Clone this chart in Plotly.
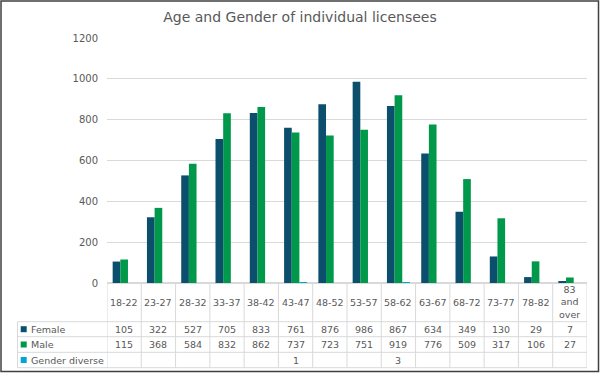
import plotly.graph_objects as go

categories = ["18-22", "23-27", "28-32", "33-37", "38-42", "43-47", "48-52",
              "53-57", "58-62", "63-67", "68-72", "73-77", "78-82", "83 and over"]
header_labels = ["18-22", "23-27", "28-32", "33-37", "38-42", "43-47", "48-52",
                 "53-57", "58-62", "63-67", "68-72", "73-77", "78-82", "83<br>and<br>over"]
female = [105, 322, 527, 705, 833, 761, 876, 986, 867, 634, 349, 130, 29, 7]
male = [115, 368, 584, 832, 862, 737, 723, 751, 919, 776, 509, 317, 106, 27]
gender_diverse = [None, None, None, None, None, 1, None, None, 3, None, None, None, None, None]
series_names = ["Female", "Male", "Gender diverse"]
series_values = [female, male, gender_diverse]
series_colors = ["#0B4F6C", "#00984A", "#00A6D6"]
y_ticks = [0, 200, 400, 600, 800, 1000, 1200]

W, H = 600, 374
ML, MR, MT, MB = 107, 13, 38, 91
PW, PH = W - ML - MR, H - MT - MB

def px(x):
    return (x - ML) / PW

def py(y):
    return (H - MB - y) / PH

TXT = "#595959"
GRID = "#D9D9D9"
FONT = "DejaVu Sans"

fig = go.Figure()
idx = list(range(len(categories)))
for name, vals, col in zip(series_names, series_values, series_colors):
    fig.add_trace(go.Bar(x=idx, y=[v if v is not None else 0 for v in vals],
                         name=name, marker=dict(color=col, line=dict(width=0)),
                         hoverinfo="skip"))

shapes = []
annotations = []

row_bounds = [321.7, 336.7, 352.3, 367.7]
# vertical column lines
for i in range(len(categories) + 1):
    shapes.append(dict(type="line", xref="x", yref="paper", x0=i - 0.5, x1=i - 0.5,
                       y0=py(283), y1=py(row_bounds[-1]), line=dict(color=GRID, width=1)))
# left column border
shapes.append(dict(type="line", xref="paper", yref="paper", x0=px(17.5), x1=px(17.5),
                   y0=py(row_bounds[0]), y1=py(row_bounds[-1]), line=dict(color=GRID, width=1)))
# horizontal lines
for rb in row_bounds:
    shapes.append(dict(type="line", xref="paper", yref="paper", x0=px(17.5), x1=1,
                       y0=py(rb), y1=py(rb), line=dict(color=GRID, width=1)))

# header labels
for i, lab in enumerate(header_labels):
    annotations.append(dict(x=i, y=py(302), xref="x", yref="paper", text=lab,
                            showarrow=False, xanchor="center", yanchor="middle",
                            font=dict(family=FONT, size=9.5, color=TXT)))

# rows
for r, (name, vals, col) in enumerate(zip(series_names, series_values, series_colors)):
    yc = (row_bounds[r] + row_bounds[r + 1]) / 2
    shapes.append(dict(type="rect", xref="paper", yref="paper", x0=px(20.7), x1=px(26.7),
                       y0=py(yc - 3), y1=py(yc + 3), fillcolor=col, line=dict(width=0)))
    annotations.append(dict(x=px(29), y=py(yc), xref="paper", yref="paper", text=name,
                            showarrow=False, xanchor="left", yanchor="middle",
                            font=dict(family=FONT, size=9.5, color=TXT)))
    for i, v in enumerate(vals):
        if v is None:
            continue
        annotations.append(dict(x=i, y=py(yc), xref="x", yref="paper", text=str(v),
                                showarrow=False, xanchor="center", yanchor="middle",
                                font=dict(family=FONT, size=9.5, color=TXT)))

# outer border
shapes.append(dict(type="rect", xref="paper", yref="paper", x0=px(1), x1=px(598.5),
                   y0=py(1), y1=py(371.5), line=dict(color="#404040", width=1.5)))

fig.update_layout(
    width=W, height=H,
    margin=dict(l=ML, r=MR, t=MT, b=MB, autoexpand=False),
    paper_bgcolor="white", plot_bgcolor="white",
    barmode="group", bargap=0.33, bargroupgap=0,
    showlegend=False,
    title=dict(text="Age and Gender of individual licensees", x=0.5, xref="container",
               xanchor="center", y=1 - 17 / H, yref="container", yanchor="middle",
               font=dict(family=FONT, size=14, color=TXT)),
    xaxis=dict(range=[-0.5, len(categories) - 0.5], showticklabels=False, showgrid=False,
               zeroline=False, showline=False, ticks=""),
    yaxis=dict(range=[0, 1200], tickvals=y_ticks, showgrid=True, gridcolor=GRID,
               gridwidth=1, zeroline=True, zerolinecolor=GRID, showline=False,
               ticks="", ticklabelstandoff=8,
               tickfont=dict(family=FONT, size=10, color=TXT)),
    shapes=shapes, annotations=annotations,
)

fig.write_html("out.html", config={"displayModeBar": False},
               post_script="document.body.style.margin='0';document.body.style.overflow='hidden';")
